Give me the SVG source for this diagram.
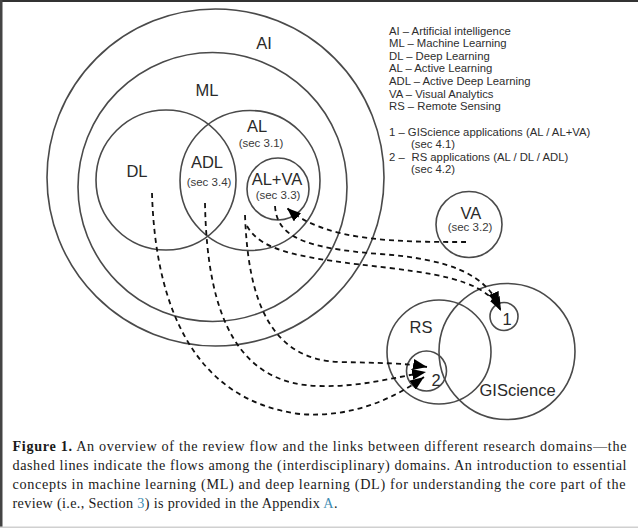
<svg xmlns="http://www.w3.org/2000/svg" width="638" height="528" viewBox="0 0 638 528">
<defs>
<style>
.c{fill:none;stroke:#4a4a4a;stroke-width:1.6}
.lb{font-family:"Liberation Sans",Arial,sans-serif;font-size:16.5px;fill:#2a2a2a;text-anchor:middle}
.st{text-anchor:start}
.sc{font-family:"Liberation Sans",Arial,sans-serif;font-size:11.5px;fill:#3a3a3a;text-anchor:middle}
.lg{font-family:"Liberation Sans",Arial,sans-serif;font-size:11.3px;fill:#2e2e2e}
.cap{font-family:"Liberation Serif","Times New Roman",serif;font-size:14.2px;fill:#1a1a1a}
.lnk{fill:#3f8db3}
.d{fill:none;stroke:#111;stroke-width:1.8;stroke-dasharray:5 4}
</style>
<marker id="ah" markerUnits="userSpaceOnUse" markerWidth="15" markerHeight="11" refX="14" refY="5.5" orient="auto">
<path d="M0,0 L14,5.5 L0,11 Z" fill="#000"/>
</marker>
</defs>
<rect width="638" height="528" fill="#fff"/>
<rect x="0" y="0" width="638" height="2" fill="#333"/>
<rect x="0" y="0" width="2.5" height="528" fill="#444"/>
<rect x="0" y="526.5" width="638" height="1.5" fill="#d0d0d0"/>

<g id="AI"><circle class="c" cx="215.5" cy="177.5" r="168.5"/><text class="lb" x="264" y="49">AI</text></g>
<g id="ML"><circle class="c" cx="212.5" cy="187" r="134.5"/><text class="lb" x="207" y="96">ML</text></g>
<g id="DL"><circle class="c" cx="166" cy="180" r="70"/><text class="lb" x="137" y="176.5">DL</text></g>
<g id="AL"><circle class="c" cx="250" cy="180.5" r="70"/><text class="lb" x="257" y="131.5">AL</text><text class="sc" x="261" y="147">(sec 3.1)</text></g>
<g id="ADL"><text class="lb" x="207" y="167.5">ADL</text><text class="sc" x="209" y="186">(sec 3.4)</text></g>
<g id="ALVA"><circle class="c" cx="278" cy="189" r="31"/><text class="lb" x="277" y="185" font-size="17">AL+VA</text><text class="sc" x="278" y="198.5">(sec 3.3)</text></g>
<g id="VA"><circle class="c" cx="469" cy="224.5" r="33"/><text class="lb" x="471" y="218.5">VA</text><text class="sc" x="470" y="231">(sec 3.2)</text></g>
<g id="RS"><circle class="c" cx="439" cy="352" r="52"/><text class="lb" x="421" y="333">RS</text></g>
<g id="GIScience"><circle class="c" cx="507" cy="351.5" r="68"/><text class="lb st" x="479.5" y="396">GIScience</text></g>
<g id="n1"><circle class="c" cx="504" cy="316.5" r="14"/><text class="lb" x="507" y="325">1</text></g>
<g id="n2"><circle class="c" cx="426.5" cy="371" r="20"/><text class="lb" x="436" y="386">2</text></g>

<g id="legend" class="lg">
<text x="389" y="34.5">AI – Artificial intelligence</text>
<text x="389" y="47">ML – Machine Learning</text>
<text x="389" y="59.5">DL – Deep Learning</text>
<text x="389" y="72">AL – Active Learning</text>
<text x="389" y="84.5">ADL – Active Deep Learning</text>
<text x="389" y="97.5">VA – Visual Analytics</text>
<text x="389" y="110.3">RS – Remote Sensing</text>
<text x="389" y="135.7">1 – GIScience applications (AL / AL+VA)</text>
<text x="411" y="148.3">(sec 4.1)</text>
<text x="389" y="160.7">2 –<tspan x="411.5">RS applications (AL / DL / ADL)</tspan></text>
<text x="411" y="172.7">(sec 4.2)</text>
</g>

<g id="connectors">
<path class="d" d="M152,193 C155,300 190,400 300,414 C350,418 392,400 424,377" marker-end="url(#ah)"/>
<path class="d" d="M205,203 C207,320 240,385 320,386 C360,387 392,378 426,372" marker-end="url(#ah)"/>
<path class="d" d="M245,215 C248,300 270,360 340,362 C380,363 405,363 427,367" marker-end="url(#ah)"/>
<path class="d" d="M247,226 C262,252 300,258 390,268 C455,276 488,285 501,311" marker-end="url(#ah)"/>
<path class="d" d="M275,206 C277,235 300,248 380,254 C450,259 486,275 499,306" marker-end="url(#ah)"/>
<path class="d" d="M466,242 C400,242 325,242 287,208" marker-end="url(#ah)"/>
</g>

<g id="caption" class="cap">
<text x="12.5" y="451" textLength="614" lengthAdjust="spacing"><tspan font-weight="bold">Figure 1.</tspan>  An overview of the review flow and the links between different research domains—the</text>
<text x="12.5" y="470" textLength="614" lengthAdjust="spacing">dashed lines indicate the flows among the (interdisciplinary) domains. An introduction to essential</text>
<text x="12.5" y="489" textLength="613" lengthAdjust="spacing">concepts in machine learning (ML) and deep learning (DL) for understanding the core part of the</text>
<text x="12.5" y="508" textLength="325" lengthAdjust="spacing">review (i.e., Section <tspan class="lnk">3</tspan>) is provided in the Appendix <tspan class="lnk">A</tspan>.</text>
</g>
</svg>
